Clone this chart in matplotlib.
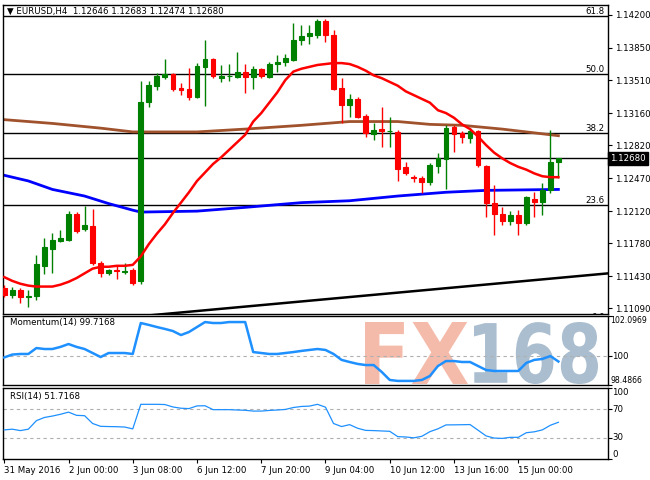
import matplotlib
matplotlib.use('Agg')
import matplotlib.pyplot as plt
import numpy as np
from matplotlib.textpath import TextPath
from matplotlib.patches import PathPatch
from matplotlib.font_manager import FontProperties
from matplotlib.transforms import Affine2D, IdentityTransform

# ---------------- data ----------------
symbol = "EURUSD,H4"
opens = [1.11305, 1.11230, 1.11283, 1.11209, 1.11220, 1.11538, 1.11718, 1.11803, 1.11814, 1.12089,
         1.11930, 1.11962, 1.11570, 1.11464, 1.11495, 1.11474, 1.11495, 1.11379, 1.13277, 1.13447,
         1.13542, 1.13574, 1.13426, 1.13415, 1.13330, 1.13648, 1.13733, 1.13532, 1.13548, 1.13542,
         1.13595, 1.13542, 1.13627, 1.13542, 1.13680, 1.13701, 1.13723, 1.13935, 1.13977, 1.13988,
         1.14136, 1.13988, 1.13426, 1.13245, 1.13309, 1.13129, 1.12938, 1.12991, 1.12970, 1.12959,
         1.12588, 1.12482, 1.12471, 1.12429, 1.12598, 1.12673, 1.13012, 1.12948, 1.12895, 1.12970,
         1.12598, 1.12206, 1.12089, 1.12015, 1.12079, 1.11994, 1.12248, 1.12217, 1.12344, 1.12646]
highs = [1.11336, 1.11315, 1.11305, 1.11283, 1.11655, 1.11835, 1.11888, 1.11920, 1.12121, 1.12111,
         1.12174, 1.12142, 1.11591, 1.11506, 1.11538, 1.11570, 1.11517, 1.13500, 1.13500, 1.13585,
         1.13733, 1.13580, 1.13479, 1.13638, 1.13691, 1.13935, 1.13740, 1.13670, 1.13680, 1.13808,
         1.13680, 1.13659, 1.13638, 1.13701, 1.13776, 1.13786, 1.14115, 1.14094, 1.14094, 1.14157,
         1.14157, 1.14041, 1.13532, 1.13362, 1.13330, 1.13150, 1.13055, 1.13224, 1.13118, 1.12980,
         1.12641, 1.12503, 1.12492, 1.12630, 1.12736, 1.13033, 1.13033, 1.12970, 1.13001, 1.12980,
         1.12605, 1.12397, 1.12164, 1.12121, 1.12132, 1.12280, 1.12323, 1.12418, 1.12980, 1.12683]
lows = [1.11209, 1.11198, 1.11145, 1.11103, 1.11177, 1.11453, 1.11464, 1.11792, 1.11803, 1.11888,
        1.11909, 1.11548, 1.11421, 1.11442, 1.11400, 1.11453, 1.11336, 1.11347, 1.13224, 1.13404,
        1.13521, 1.13394, 1.13351, 1.13298, 1.13320, 1.13235, 1.13532, 1.13489, 1.13500, 1.13532,
        1.13373, 1.13415, 1.13532, 1.13532, 1.13595, 1.13659, 1.13712, 1.13882, 1.13892, 1.13956,
        1.13914, 1.13404, 1.13055, 1.13118, 1.13108, 1.12906, 1.12874, 1.12800, 1.12800, 1.12439,
        1.12503, 1.12429, 1.12312, 1.12397, 1.12524, 1.12354, 1.12747, 1.12842, 1.12842, 1.12588,
        1.12057, 1.11867, 1.11973, 1.11973, 1.11867, 1.11973, 1.12057, 1.12079, 1.12312, 1.12474]
closes = [1.11230, 1.11283, 1.11209, 1.11220, 1.11559, 1.11739, 1.11814, 1.11835, 1.12089, 1.11909,
          1.11973, 1.11570, 1.11464, 1.11495, 1.11485, 1.11485, 1.11358, 1.13277, 1.13457, 1.13553,
          1.13574, 1.13415, 1.13404, 1.13330, 1.13659, 1.13733, 1.13553, 1.13553, 1.13553, 1.13595,
          1.13542, 1.13627, 1.13553, 1.13680, 1.13701, 1.13744, 1.13935, 1.13977, 1.14009, 1.14136,
          1.13988, 1.13415, 1.13245, 1.13309, 1.13118, 1.12948, 1.12980, 1.12970, 1.12975, 1.12567,
          1.12524, 1.12471, 1.12429, 1.12609, 1.12683, 1.13001, 1.12938, 1.12906, 1.12970, 1.12609,
          1.12206, 1.12089, 1.12015, 1.12079, 1.11994, 1.12270, 1.12217, 1.12344, 1.12641, 1.12680]

ma_red = [1.1142, 1.1138, 1.1135, 1.1133, 1.1132, 1.1132, 1.1132, 1.1134, 1.1137, 1.1141,
          1.1146, 1.1151, 1.1153, 1.1153, 1.1154, 1.1154, 1.1155, 1.1164, 1.1177, 1.1188,
          1.1198, 1.1210, 1.1221, 1.1232, 1.1244, 1.1253, 1.1262, 1.1269, 1.1277, 1.1285,
          1.1293, 1.1307, 1.1316, 1.1327, 1.1338, 1.1351, 1.1360, 1.1363, 1.1365, 1.1367,
          1.1368, 1.1369, 1.1369, 1.1368, 1.1365, 1.1361, 1.1356, 1.1353, 1.1349, 1.1345,
          1.1339, 1.1335, 1.1331, 1.1327, 1.1319, 1.1316, 1.1311, 1.1304, 1.1299, 1.1291,
          1.1282, 1.1274, 1.1268, 1.1263, 1.1259, 1.1256, 1.1252, 1.1249, 1.1248, 1.1248]
ma_brown_bars = [0, 6, 12, 16, 24, 30, 37, 43, 49, 53, 57, 62, 69]
ma_brown = [1.1309, 1.1305, 1.1300, 1.1296, 1.1296, 1.1299, 1.1303, 1.1307, 1.1307, 1.1304, 1.1303, 1.1299, 1.1292]
ma_blue_bars = [0, 3, 6, 10, 13, 16, 17, 24, 30, 37, 43, 49, 55, 60, 69]
ma_blue = [1.1250, 1.1244, 1.1235, 1.1228, 1.1220, 1.1213, 1.1211, 1.1212, 1.1216, 1.1221, 1.1223, 1.1228, 1.1232, 1.1234, 1.1235]

trend_bars = [17.5, 75.2]
trend_prices = [1.1101, 1.1146]

fib_low, fib_high = 1.10944, 1.16202
fib_ratios = [0.0, 0.236, 0.382, 0.5, 0.618]
fib_labels = ["0.0", "23.6", "38.2", "50.0", "61.8"]

price_ticks = [1.14200, 1.13850, 1.13510, 1.13160, 1.12820, 1.12470, 1.12120, 1.11780, 1.11430, 1.11090]

momentum = [99.93, 100.08, 100.11, 100.11, 100.42, 100.37, 100.37, 100.48, 100.63, 100.48,
            100.37, 100.16, 99.95, 100.16, 100.16, 100.16, 100.11, 101.73, 101.63, 101.52,
            101.42, 101.31, 101.10, 101.26, 101.52, 101.78, 101.73, 101.73, 101.78, 101.78,
            101.78, 100.21, 100.16, 100.11, 100.11, 100.16, 100.21, 100.27, 100.32, 100.37,
            100.32, 100.11, 99.80, 99.69, 99.59, 99.53, 99.53, 99.17, 98.75, 98.70,
            98.70, 98.70, 98.75, 98.96, 99.48, 99.74, 99.74, 99.69, 99.69, 99.48,
            99.27, 99.22, 99.22, 99.22, 99.22, 99.64, 99.80, 99.85, 100.00, 99.7168]
mom_min, mom_max = 98.4866, 102.0969

rsi = [41, 42, 40, 42, 54, 58.5, 60.5, 63, 66, 61.5,
       61, 50, 46, 45.7, 45.5, 45, 42.4, 77, 77, 77,
       76.7, 73.3, 71.5, 71, 74.8, 75, 69.5, 69.5, 69.5, 69,
       68.6, 67.5, 67.5, 68.4, 69, 69.8, 72.5, 74, 74.5, 77,
       73, 50, 45.7, 48.4, 43.3, 40.3, 40, 39.5, 39, 31.5,
       31, 29.8, 32, 38.5, 42.5, 48, 48.1, 48.3, 48.5, 40.5,
       32.5, 29.5, 29, 30.5, 30.5, 37, 38.3, 41, 47.5, 51.7168]

time_tick_bars = [0, 8, 16, 24, 32, 40, 48, 56, 64]
time_tick_labels = ["31 May 2016", "2 Jun 00:00", "3 Jun 08:00", "6 Jun 12:00", "7 Jun 20:00",
                    "9 Jun 04:00", "10 Jun 12:00", "13 Jun 16:00", "15 Jun 00:00"]

# ---------------- figure ----------------
W, H = 650, 480
FS = 6.2
FS_SMALL = 5.6
plt.rcParams['font.family'] = ['DejaVu Sans']
fig = plt.figure(figsize=(W / 100, H / 100), dpi=100)
fig.patch.set_facecolor('white')
L = 2.5 / W
R = 607.7 / W
ax = fig.add_axes([L, 1 - 314 / H, R - L, (314 - 5) / H])
axm = fig.add_axes([L, 1 - 385 / H, R - L, (385 - 316) / H])
axr = fig.add_axes([L, 1 - 459 / H, R - L, (459 - 388) / H])

n = len(opens)
x = np.arange(n)
o = np.array(opens); hi = np.array(highs); lo = np.array(lows); c = np.array(closes)
GREEN = '#008000'
RED = '#ff0000'
cols = [GREEN if cc >= oo else RED for oo, cc in zip(o, c)]

# fib levels
for r, lbl in zip(fib_ratios, fib_labels):
    lvl = fib_low + r * (fib_high - fib_low)
    ax.axhline(lvl, color='black', lw=1.0, zorder=1)
    ax.text(0.9955, lvl, lbl, transform=ax.get_yaxis_transform(), ha='right', va='bottom',
            fontsize=FS, color='black', zorder=1, clip_on=True)

# current price line
ax.axhline(closes[-1], color='black', lw=1.0, zorder=1)

# trend line
ax.plot(trend_bars, trend_prices, color='black', lw=1.8, zorder=2, solid_capstyle='butt')

# moving averages
ax.plot(ma_brown_bars, ma_brown, color='#a0522d', lw=2.0, zorder=2)
ax.plot(ma_blue_bars, ma_blue, color='#0000ff', lw=2.0, zorder=2)

# candles
ax.vlines(x, lo, hi, colors=cols, lw=1.0, zorder=3)
ax.bar(x, np.abs(c - o), bottom=np.minimum(o, c), width=0.6, color=cols, edgecolor=cols,
       linewidth=0.8, zorder=4)

ax.plot(x, ma_red, color='#ff0000', lw=1.8, zorder=5)

ax.set_xlim(-0.22, 75.14)
ax.set_ylim(1.11029, 1.14306)
ax.yaxis.tick_right()
ax.set_yticks(price_ticks)
ax.set_yticklabels([f'{v:.5f}' for v in price_ticks])
ax.tick_params(axis='y', length=3, width=0.8, pad=2, labelsize=FS, direction='out')
ax.tick_params(axis='x', bottom=False, labelbottom=False)

ax.text(1.004, closes[-1], f'{closes[-1]:.5f}', transform=ax.get_yaxis_transform(),
        ha='left', va='center', fontsize=FS, color='white', clip_on=False, zorder=10,
        bbox=dict(boxstyle='square,pad=0.25', fc='black', ec='black'))

fig.text(7 / W, 1 - 11 / H,
         f'\u25BC {symbol}  {opens[-1]:.5f} {highs[-1]:.5f} {lows[-1]:.5f} {closes[-1]:.5f}',
         fontsize=FS, va='center', ha='left', color='black')

# ---------------- momentum ----------------
fp = FontProperties(family='DejaVu Sans', weight='bold')


def fit_text(axis, s, x0, x1, ytop, ybot, color):
    tp = TextPath((0, 0), s, size=100, prop=fp)
    bb = tp.get_extents()
    sx = (x1 - x0) / bb.width
    sy = (ybot - ytop) / bb.height
    tr = Affine2D().translate(-bb.x0, -bb.y0).scale(sx, sy).translate(x0, H - ybot)
    patch = PathPatch(tr.transform_path(tp), transform=IdentityTransform(), fc=color,
                      ec='none', zorder=0.5, alpha=0.75)
    axis.add_artist(patch)


fit_text(axm, 'FX', 365, 468, 322, 384, '#f2a58e')
fit_text(axm, '168', 474, 598, 322, 384, '#8ea8c0')

axm.axhline(100, color='#b0b0b0', lw=0.8, ls=(0, (3, 3)), zorder=1)
axm.plot(x, momentum, color='#1e90ff', lw=1.8, zorder=3)
axm.set_xlim(-0.22, 75.14)
axm.set_ylim(mom_min, mom_max)
axm.set_yticks([mom_min, 100, mom_max])
axm.set_yticklabels([])
axm.yaxis.tick_right()
axm.tick_params(axis='y', length=3, width=0.8, direction='out')
axm.tick_params(axis='x', bottom=False, labelbottom=False)
yt = axm.get_yaxis_transform()
axm.text(1.004, mom_max, f'{mom_max:.4f}', transform=yt, ha='left', va='top', fontsize=FS_SMALL)
axm.text(1.0075, 100, '100', transform=yt, ha='left', va='center', fontsize=FS)
axm.text(1.004, mom_min, f'{mom_min:.4f}', transform=yt, ha='left', va='bottom', fontsize=FS_SMALL)
axm.text(7 / 605, 0.9, f'Momentum(14) {momentum[-1]:.4f}', transform=axm.transAxes,
         ha='left', va='center', fontsize=FS)

# ---------------- RSI ----------------
axr.axhline(70, color='#b0b0b0', lw=0.8, ls=(0, (3, 3)), zorder=1)
axr.axhline(30, color='#b0b0b0', lw=0.8, ls=(0, (3, 3)), zorder=1)
axr.plot(x, rsi, color='#1e90ff', lw=0.9, zorder=3)
axr.set_xlim(-0.22, 75.14)
axr.set_ylim(0, 100)
axr.set_yticks([0, 30, 70, 100])
axr.set_yticklabels([])
axr.yaxis.tick_right()
axr.tick_params(axis='y', length=3, width=0.8, direction='out')
yt = axr.get_yaxis_transform()
axr.text(1.0075, 100, '100', transform=yt, ha='left', va='top', fontsize=FS)
axr.text(1.0075, 70, '70', transform=yt, ha='left', va='center', fontsize=FS)
axr.text(1.0075, 30, '30', transform=yt, ha='left', va='center', fontsize=FS)
axr.text(1.0075, 0, '0', transform=yt, ha='left', va='bottom', fontsize=FS)
axr.text(7 / 605, 0.88, f'RSI(14) {rsi[-1]:.4f}', transform=axr.transAxes,
         ha='left', va='center', fontsize=FS)

axr.set_xticks(time_tick_bars)
axr.set_xticklabels(time_tick_labels)
axr.tick_params(axis='x', length=3, width=0.8, pad=2, labelsize=FS, direction='out')
for t in axr.get_xticklabels():
    t.set_ha('left')

for a in (ax, axm, axr):
    for s in a.spines.values():
        s.set_color('black')
        s.set_linewidth(1.0)

fig.savefig('out.png', dpi=100, facecolor='white')
